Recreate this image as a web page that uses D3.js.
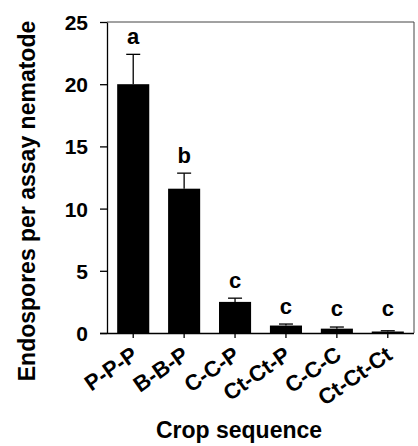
<!DOCTYPE html>
<html>
<head>
<meta charset="utf-8">
<script src="https://cdn.jsdelivr.net/npm/d3@7"></script>
<style>
  body { margin: 0; background: #fff; }
  text { font-family: "Liberation Sans", Arial, Helvetica, sans-serif; font-weight: bold; fill: #000; }
</style>
</head>
<body>
<script>
const width = 418;
const height = 446;
const margin = { top: 22, right: 4, bottom: 113, left: 107 };

// data
const sequences = ['P-P-P', 'B-B-P', 'C-C-P', 'Ct-Ct-P', 'C-C-C', 'Ct-Ct-Ct'];
const means = [20.0, 11.6, 2.5, 0.6, 0.35, 0.12];
const errors = [2.4, 1.25, 0.3, 0.12, 0.13, 0.06];
const groups = ['a', 'b', 'c', 'c', 'c', 'c'];
const yTicks = [0, 5, 10, 15, 20, 25];

const svg = d3.select('body').append('svg').attr('width', width).attr('height', height);

const x = d3.scaleBand().domain(sequences)
    .range([margin.left, width - margin.right])
    .paddingInner(0.37).paddingOuter(0.2);
const y = d3.scaleLinear().domain([0, 25]).range([height - margin.bottom, margin.top]);

// frame (top and right)
svg.append('path')
    .attr('d', `M${margin.left},${margin.top}H${width - margin.right}V${height - margin.bottom}`)
    .attr('fill', 'none').attr('stroke', '#444').attr('stroke-width', 1);

// bars
svg.selectAll('.bar')
    .data(sequences)
    .enter().append('rect')
    .attr('class', 'bar')
    .attr('x', d => x(d))
    .attr('width', x.bandwidth())
    .attr('y', (d, i) => y(means[i]))
    .attr('height', (d, i) => y(0) - y(means[i]))
    .attr('fill', '#000');

// error bars (upper only)
const eb = svg.selectAll('.err')
    .data(sequences)
    .enter().append('g')
    .attr('class', 'err')
    .attr('stroke', '#000').attr('stroke-width', 1.3);
eb.append('line')
    .attr('x1', d => x(d) + x.bandwidth() / 2).attr('x2', d => x(d) + x.bandwidth() / 2)
    .attr('y1', (d, i) => y(means[i])).attr('y2', (d, i) => y(means[i] + errors[i]));
eb.append('line')
    .attr('x1', d => x(d) + x.bandwidth() / 2 - 7).attr('x2', d => x(d) + x.bandwidth() / 2 + 7)
    .attr('y1', (d, i) => y(means[i] + errors[i])).attr('y2', (d, i) => y(means[i] + errors[i]));

// significance letters
svg.selectAll('.grp')
    .data(sequences)
    .enter().append('text')
    .attr('class', 'grp')
    .attr('x', d => x(d) + x.bandwidth() / 2)
    .attr('y', (d, i) => Math.min(y(means[i] + errors[i]) - 10, 316))
    .attr('text-anchor', 'middle')
    .style('font-size', '22px')
    .text((d, i) => groups[i]);

// y axis
const yAxis = svg.append('g')
    .attr('transform', `translate(${margin.left},0)`)
    .call(d3.axisLeft(y).tickValues(yTicks).tickSize(7).tickPadding(12).tickSizeOuter(0));
yAxis.select('.domain').attr('stroke-width', 1.3);
yAxis.selectAll('.tick line').attr('stroke-width', 1.3);
yAxis.selectAll('text').style('font-size', '21px').attr('dy', '0.36em');

// x axis
const xAxis = svg.append('g')
    .attr('transform', `translate(0,${height - margin.bottom})`)
    .call(d3.axisBottom(x).tickSize(5).tickSizeOuter(0));
xAxis.select('.domain').attr('d', `M${margin.left - 7},0.5H${width - margin.right}`).attr('stroke-width', 1.3);
xAxis.selectAll('.tick line').attr('stroke-width', 1.3);
xAxis.selectAll('text')
    .style('font-size', '22px')
    .attr('text-anchor', 'end')
    .attr('dy', null)
    .attr('y', 0)
    .attr('transform', 'translate(6,25) rotate(-35)');

// axis titles
svg.append('text')
    .attr('transform', `translate(35,${(margin.top + 380) / 2}) rotate(-90)`)
    .attr('text-anchor', 'middle')
    .style('font-size', '23px')
    .text('Endospores per assay nematode');

svg.append('text')
    .attr('x', 239).attr('y', 438)
    .attr('text-anchor', 'middle')
    .style('font-size', '23px')
    .text('Crop sequence');
</script>
</body>
</html>
